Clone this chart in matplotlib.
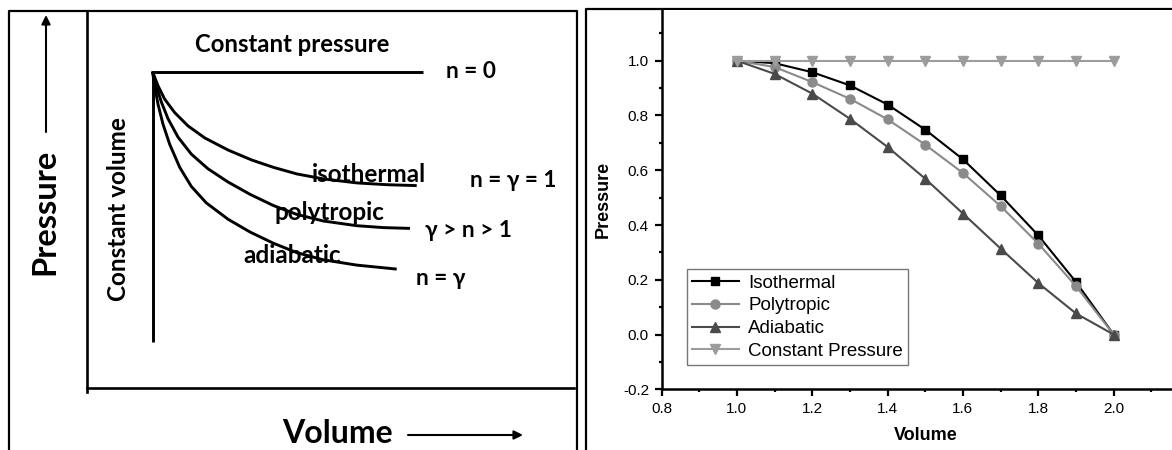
import numpy as np
import matplotlib
matplotlib.use("Agg")
import matplotlib.pyplot as plt
from matplotlib.ticker import MultipleLocator, FormatStrFormatter

plt.rcParams['axes.unicode_minus'] = False

# ---- right panel data ----
volume = [1.0, 1.1, 1.2, 1.3, 1.4, 1.5, 1.6, 1.7, 1.8, 1.9, 2.0]
isothermal = [1.0, 0.991, 0.958, 0.910, 0.840, 0.748, 0.640, 0.508, 0.362, 0.192, 0.0]
polytropic = [1.0, 0.977, 0.922, 0.861, 0.786, 0.693, 0.590, 0.469, 0.332, 0.177, 0.0]
adiabatic = [1.0, 0.952, 0.880, 0.788, 0.685, 0.569, 0.442, 0.314, 0.188, 0.077, 0.0]
const_p = [1.0, 1.0, 1.0, 1.0, 1.0, 1.0, 1.0, 1.0, 1.0, 1.0, 1.0]

series_names = ['Isothermal', 'Polytropic', 'Adiabatic', 'Constant Pressure']
series_colors = ['#000000', '#8a8a8a', '#4a4a4a', '#9c9c9c']
series_markers = ['s', 'o', '^', 'v']
series_msize = [6, 6.5, 6.5, 6.5]

# ---- left panel: schematic curves (diagram units, origin at axes corner) ----
iso_v = [6.6, 7.15, 7.82, 8.82, 10.15, 11.82, 14.15, 16.52, 18.68, 21.02, 23.68, 27.02, 30.02, 33.02]
iso_p = [31.65, 30.22, 28.88, 27.54, 26.21, 25.01, 23.8, 22.8, 22.07, 21.41, 20.91, 20.51, 20.33, 20.24]
poly_v = [6.6, 6.98, 7.48, 8.15, 9.15, 10.48, 12.15, 14.15, 16.35, 18.68, 21.02, 23.68, 27.02, 29.68, 32.35]
poly_p = [31.65, 30.21, 28.61, 26.93, 25.09, 23.39, 21.92, 20.6, 19.37, 18.25, 17.36, 16.7, 16.23, 16.04, 15.96]
adia_v = [6.6, 6.82, 7.15, 7.65, 8.32, 9.32, 10.48, 11.98, 14.15, 16.35, 18.68, 21.02, 23.68, 27.02, 31.02]
adia_p = [31.65, 30.2, 28.38, 26.38, 24.37, 22.07, 20.16, 18.51, 16.88, 15.6, 14.48, 13.54, 12.82, 12.29, 11.89]
cp_v = [6.6, 33.6]
cp_p = [31.65, 31.65]
cv_v = [6.6, 6.6]
cv_p = [31.65, 4.63]

fig = plt.figure(figsize=(11.72, 4.5), dpi=100)

# frames around the two panels (pixel coords)
frame = fig.add_axes([0, 0, 1, 1])
frame.set_xlim(0, 1172)
frame.set_ylim(450, 0)
frame.axis('off')
frame.plot([9.4, 9.4, 577, 577], [455, 11, 11, 455], color='black', lw=1.6)
frame.plot([586, 586, 1175], [455, 9, 9], color='black', lw=1.6)

# ---- left schematic ----
lf = ['Lato', 'DejaVu Sans']
ax1 = fig.add_axes([0, 0, 586 / 1172, 1])
ax1.set_xlim(-8.65, 49.95)
ax1.set_ylim(-6.2, 38.8)
ax1.axis('off')
ax1.patch.set_alpha(0)

ax1.plot([0, 0], [37.7, -0.35], color='black', lw=1.9)
ax1.plot([0, 48.7], [0, 0], color='black', lw=1.9)

for v, p in [(iso_v, iso_p), (poly_v, poly_p), (adia_v, adia_p), (cp_v, cp_p), (cv_v, cv_p)]:
    ax1.plot(v, p, color='black', lw=2.1, solid_joinstyle='round', solid_capstyle='butt')

arrow = dict(arrowstyle='-|>', lw=1.5, color='black', mutation_scale=13, shrinkA=0, shrinkB=0)
ax1.annotate('', xy=(-4.05, 37.3), xytext=(-4.05, 25.6), arrowprops=arrow)
ax1.annotate('', xy=(43.65, -4.7), xytext=(32.15, -4.7), arrowprops=arrow)

ax1.text(-4.15, 17.6, 'Pressure', rotation=90, ha='center', va='center',
         fontsize=23.5, fontweight='bold', family=lf)
ax1.text(19.55, -5.5, 'Volume', ha='left', va='baseline',
         fontsize=23, fontweight='bold', family=lf)
ax1.text(3.15, 17.85, 'Constant volume', rotation=90, ha='center', va='center',
         fontsize=17.5, fontweight='bold', family=lf)
ax1.text(10.85, 33.63, 'Constant pressure', ha='left', va='baseline',
         fontsize=17.2, fontweight='bold', family=lf)
ax1.text(35.95, 30.97, 'n = 0', ha='left', va='baseline', fontsize=16.3, fontweight='bold', family=lf)
ax1.text(22.55, 20.63, 'isothermal', ha='left', va='baseline', fontsize=17.5, fontweight='bold', family=lf)
ax1.text(38.35, 20.13, 'n = γ = 1', ha='left', va='baseline', fontsize=16.3, fontweight='bold', family=lf)
ax1.text(18.75, 16.8, 'polytropic', ha='left', va='baseline', fontsize=17.5, fontweight='bold', family=lf)
ax1.text(33.85, 15.13, 'γ > n > 1', ha='left', va='baseline', fontsize=16.3, fontweight='bold', family=lf)
ax1.text(15.65, 12.47, 'adiabatic', ha='left', va='baseline', fontsize=17.5, fontweight='bold', family=lf)
ax1.text(32.95, 10.3, 'n = γ', ha='left', va='baseline', fontsize=16.3, fontweight='bold', family=lf)

# ---- right chart ----
af = ['Liberation Sans', 'DejaVu Sans']
ax2 = fig.add_axes([661.5 / 1172, (450 - 389.3) / 450, 527.5 / 1172, (389.3 - 9.5) / 450])
for name, y, c, m, ms in zip(series_names, [isothermal, polytropic, adiabatic, const_p],
                             series_colors, series_markers, series_msize):
    ax2.plot(volume, y, color=c, marker=m, lw=1.5, markersize=ms, label=name)

ax2.set_xlim(0.8, 2.2)
ax2.set_ylim(-0.2, 1.187)
ax2.set_xticks([0.8, 1.0, 1.2, 1.4, 1.6, 1.8, 2.0])
ax2.set_yticks([-0.2, 0.0, 0.2, 0.4, 0.6, 0.8, 1.0])
ax2.xaxis.set_minor_locator(MultipleLocator(0.1))
ax2.yaxis.set_minor_locator(MultipleLocator(0.1))
ax2.xaxis.set_major_formatter(FormatStrFormatter('%.1f'))
ax2.yaxis.set_major_formatter(FormatStrFormatter('%.1f'))
ax2.spines['top'].set_visible(False)
ax2.spines['right'].set_visible(False)
ax2.spines['left'].set_linewidth(1.8)
ax2.spines['bottom'].set_linewidth(1.8)
ax2.tick_params(which='major', direction='out', length=5, width=1.6, pad=4, labelsize=11)
ax2.tick_params(which='minor', direction='out', length=2.5, width=1.6)
for lab in ax2.get_xticklabels() + ax2.get_yticklabels():
    lab.set_family(af)

ax2.set_xlabel('Volume', fontsize=13, fontweight='bold', family=af, labelpad=8)
ax2.set_ylabel('Pressure', fontsize=13, fontweight='bold', family=af, labelpad=8)

leg = ax2.legend(loc='upper left', bbox_to_anchor=(0.0474, 0.316), borderaxespad=0,
                 frameon=True, fancybox=False, prop={'family': af, 'size': 13.5},
                 handlelength=2.5, handletextpad=0.5, labelspacing=0.3, borderpad=0.28)
leg.get_frame().set_edgecolor('#555555')
leg.get_frame().set_linewidth(1.0)

fig.savefig('out.png', dpi=100)
